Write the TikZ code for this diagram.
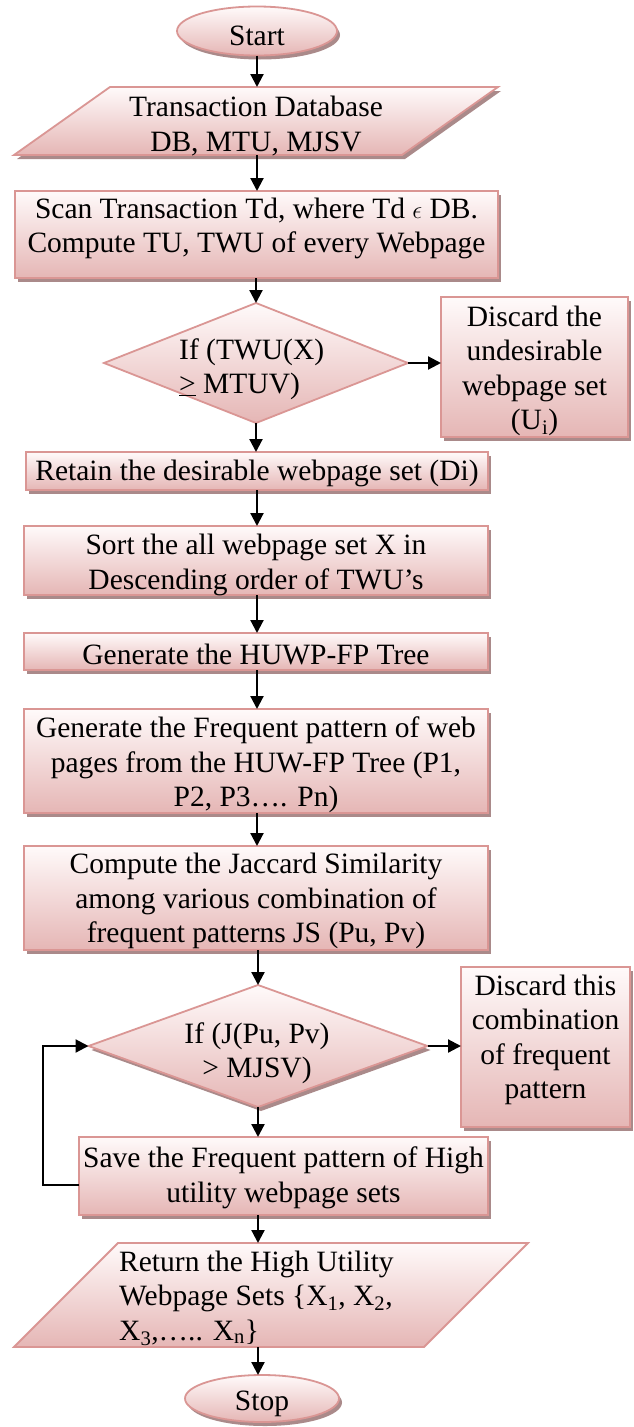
\documentclass[tikz,border=0pt]{standalone}
\usepackage{fontspec}
\setmainfont{Liberation Serif}
\usetikzlibrary{shapes.geometric,shadows,arrows.meta,calc}
\definecolor{filltop}{RGB}{255,250,250}
\definecolor{fillbot}{RGB}{229,182,181}
\definecolor{bord}{RGB}{218,150,148}
\definecolor{shad}{RGB}{170,138,138}
\begin{document}
\begin{tikzpicture}[x=1pt,y=-1pt,
  base/.style={draw=bord,line width=1.8pt,top color=filltop,bottom color=fillbot,inner sep=0pt,outer sep=0pt},
  shd/.style={drop shadow={shadow xshift=3pt,shadow yshift=-4pt,fill=shad,opacity=1}},
  rbox/.style 2 args={base,shd,rectangle,minimum width=#1pt,minimum height=#2pt},
  oval/.style 2 args={base,shd,ellipse,minimum width=#1pt,minimum height=#2pt},
  dia/.style 2 args={base,diamond,minimum width=#1pt,minimum height=#2pt},
  ghost/.style 2 args={rectangle,inner sep=0pt,outer sep=0pt,minimum width=#1pt,minimum height=#2pt},
  pshape/.style={draw=bord,line width=1.8pt,top color=filltop,bottom color=fillbot,line join=miter},
  txt/.style={font=\fontsize{29.5}{34.5}\selectfont,inner sep=0pt,align=center},
  arr/.style={line width=2.2pt,-{Triangle[length=13pt,width=13pt]}}
]
\fill[white] (0,0) rectangle (633,1427);
\useasboundingbox (0,0) rectangle (633,1427);
\coordinate (cx) at (257,0);

% Start
\node[oval={160}{49}] (start) at (257,31) {};
\node[txt] (tstart) at (257,36) {Start};

% Input parallelogram
\node[ghost={484}{68}] (p1) at (256,121) {};
\fill[shad] ([shift={(3,4)}]p1.south west) -- ([shift={(99,4)}]p1.north west) -- ([shift={(3,4)}]p1.north east) -- ([shift={(-93,4)}]p1.south east) -- cycle;
\path[pshape] (p1.south west) -- ([xshift=96pt]p1.north west) -- (p1.north east) -- ([xshift=-96pt]p1.south east) -- cycle;
\node[txt] (tp1) at (256,126) {Transaction Database\\DB, MTU, MJSV};

% Scan
\node[rbox={483}{87}] (scan) at (256.5,234.5) {};
\node[txt] (tscan) at (256.5,228.5) {Scan Transaction Td, where Td $\epsilon$ DB.\\Compute TU, TWU of every Webpage};

% Decision 1
\node[dia={304}{120}] (d1) at (256,363) {};
\node[txt,align=left,anchor=west] (td1) at (179,369) {If (TWU(X)\\\underline{>} MTUV)};

\node[rbox={187}{140}] (disc1) at (534.5,367) {};
\node[txt] (tdisc1) at (534.5,371) {Discard the\\undesirable\\webpage set\\(U\textsubscript{i})};

% Retain
\node[rbox={462}{38}] (retain) at (257,471) {};
\node[txt] (tretain) at (257,473) {Retain the desirable webpage set (Di)};

% Sort
\node[rbox={464}{69}] (sort) at (256,560.5) {};
\node[txt] (tsort) at (256,565) {Sort the all webpage set X in\\Descending order of TWU’s};

% HUWP
\node[rbox={464}{37}] (huwp) at (256,651.5) {};
\node[txt] (thuwp) at (256,654) {Generate the HUWP-FP Tree};

% Frequent
\node[rbox={464}{104}] (freq) at (256,761) {};
\node[txt] (tfreq) at (256,765) {Generate the Frequent pattern of web\\pages from the HUW-FP Tree (P1,\\P2, P3…. Pn)};

% Jaccard
\node[rbox={464}{104}] (jacc) at (256,898) {};
\node[txt] (tjacc) at (256,901) {Compute the Jaccard Similarity\\among various combination of\\frequent patterns JS (Pu, Pv)};

% Decision 2
\node[dia={339}{122},shd] (d2) at (258,1046) {};
\node[txt] (td2) at (257,1053) {If (J(Pu, Pv)\\> MJSV)};

\node[rbox={169}{160}] (disc2) at (545.5,1047) {};
\node[txt] (tdisc2) at (545.5,1040) {Discard this\\combination\\of frequent\\pattern};

% Save
\node[rbox={409}{78}] (save) at (283.5,1176) {};
\node[txt] (tsave) at (283.5,1178) {Save the Frequent pattern of High\\utility webpage sets};

% Output parallelogram
\node[ghost={514}{104}] (ret) at (271,1295) {};
\path[pshape] (ret.south west) -- ([xshift=104pt]ret.north west) -- (ret.north east) -- ([xshift=-104pt]ret.south east) -- cycle;
\node[txt,align=left,anchor=west] (tret) at (119,1298) {Return the High Utility\\Webpage Sets \{X\textsubscript{1}, X\textsubscript{2},\\X\textsubscript{3},….. X\textsubscript{n}\}};

% Stop
\node[oval={154}{47}] (stop) at (262,1398.5) {};
\node[txt] (tstop) at (262,1404) {Stop};

% Connectors
\draw[arr] (start.south -| cx) -- (p1.north -| cx);
\draw[arr] (p1.south -| cx) -- (scan.north -| cx);
\draw[arr] (scan.south -| d1.north) -- (d1.north);
\draw[arr] (d1.east) -- (d1.east -| disc1.west);
\draw[arr] (d1.south) -- (d1.south |- retain.north);
\draw[arr] (retain.south -| cx) -- (sort.north -| cx);
\draw[arr] (sort.south -| cx) -- (huwp.north -| cx);
\draw[arr] (huwp.south -| cx) -- (freq.north -| cx);
\draw[arr] (freq.south -| cx) -- (jacc.north -| cx);
\draw[arr] (jacc.south -| d2.north) -- (d2.north);
\draw[arr] (d2.east) -- (d2.east -| disc2.west);
\draw[arr] (d2.south) -- (d2.south |- save.north);
\draw[arr] ([yshift=-9pt]save.west) -- ++(-36,0) |- (d2.west);
\draw[arr] (save.south -| d2.south) -- (ret.north -| d2.south);
\draw[arr] (ret.south -| d2.south) -- (stop.north -| d2.south);
\end{tikzpicture}
\end{document}
